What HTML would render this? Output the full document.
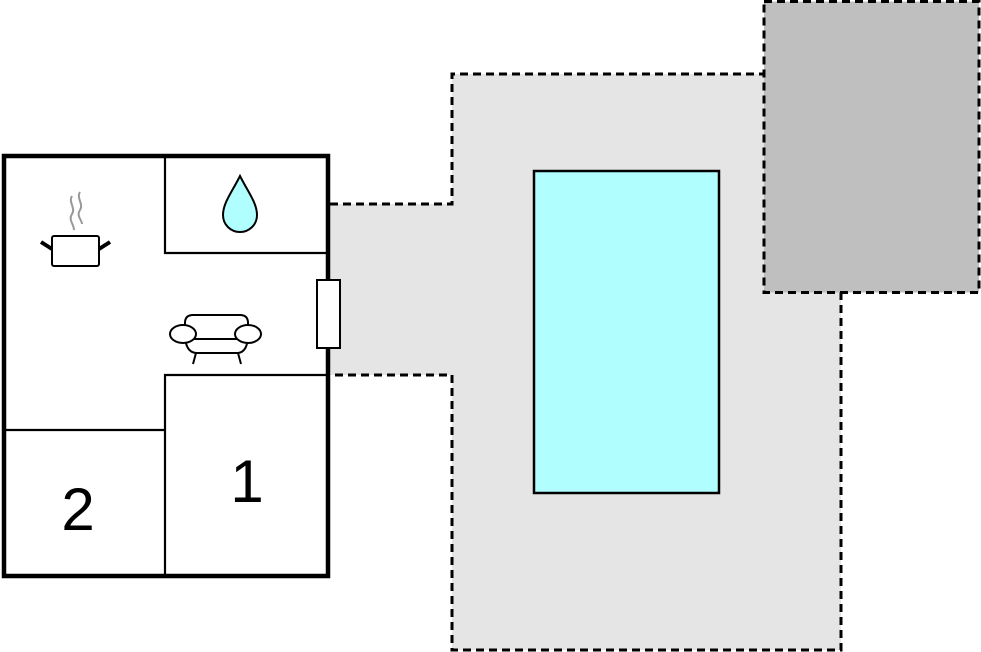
<!DOCTYPE html>
<html><head><meta charset="utf-8"><style>
html,body{margin:0;padding:0;background:#fff;width:981px;height:652px;overflow:hidden}
svg{display:block}
</style></head><body>
<svg width="981" height="652" viewBox="0 0 981 652" xmlns="http://www.w3.org/2000/svg">
<path d="M330,204 H452 V74 H765 V292 H841 V650 H452 V375 H330 Z" fill="#e5e5e5"/>
<path d="M330,204 H452 V74 H765 M841,292 V650 H452 V375 H330" fill="none" stroke="#000" stroke-width="3" stroke-dasharray="8,5"/>
<rect x="764" y="1.5" width="215" height="291" fill="#bfbfbf" stroke="#000" stroke-width="3" stroke-dasharray="8,5"/>
<rect x="534" y="171" width="185" height="322" fill="#b1fefe" stroke="#000" stroke-width="2.5"/>
<rect x="4" y="156" width="324" height="420" fill="#fff" stroke="#000" stroke-width="4.5"/>
<g stroke="#000" stroke-width="2.2" fill="none">
<path d="M165,156 V253 H328"/>
<path d="M165,576 V375 H328"/>
<path d="M4,430 H165"/>
</g>
<rect x="317" y="280" width="23" height="68" fill="#fff" stroke="#000" stroke-width="2"/>
<path d="M240,176 C232,192 223,203 223,215 C223,225 231,232 240,232 C249,232 257,225 257,215 C257,203 248,192 240,176 Z" fill="#b1fefe" stroke="#000" stroke-width="2"/>
<g stroke="#999" stroke-width="2" fill="none">
<path d="M72,196 C68,202 76,208 72,214 C68,220 74,224 74,230"/>
<path d="M80,192 C76,198 84,204 80,210 C76,216 82,220 82,224"/>
</g>
<rect x="52" y="236" width="47" height="30" rx="2" fill="#fff" stroke="#000" stroke-width="2"/>
<path d="M41,242 L52,249 M110,242 L99,249" stroke="#000" stroke-width="4"/>
<g stroke="#000" stroke-width="2" fill="#fff">
<path d="M185,334 V323 Q185,315 193,315 H240 Q248,315 248,323 V334"/>
<path d="M185,334 Q185,352 196,353 H238 Q248,352 248,334"/>
<path d="M185,339 H248" fill="none"/>
<ellipse cx="183" cy="334" rx="13" ry="9"/>
<ellipse cx="248" cy="334" rx="13" ry="9"/>
<path d="M196,353 L193,364 M238,353 L241,364" fill="none"/>
</g>
<text x="247" y="502" font-family="Liberation Sans, sans-serif" font-size="60" text-anchor="middle">1</text>
<text x="78" y="530" font-family="Liberation Sans, sans-serif" font-size="60" text-anchor="middle">2</text>
</svg>
</body></html>
